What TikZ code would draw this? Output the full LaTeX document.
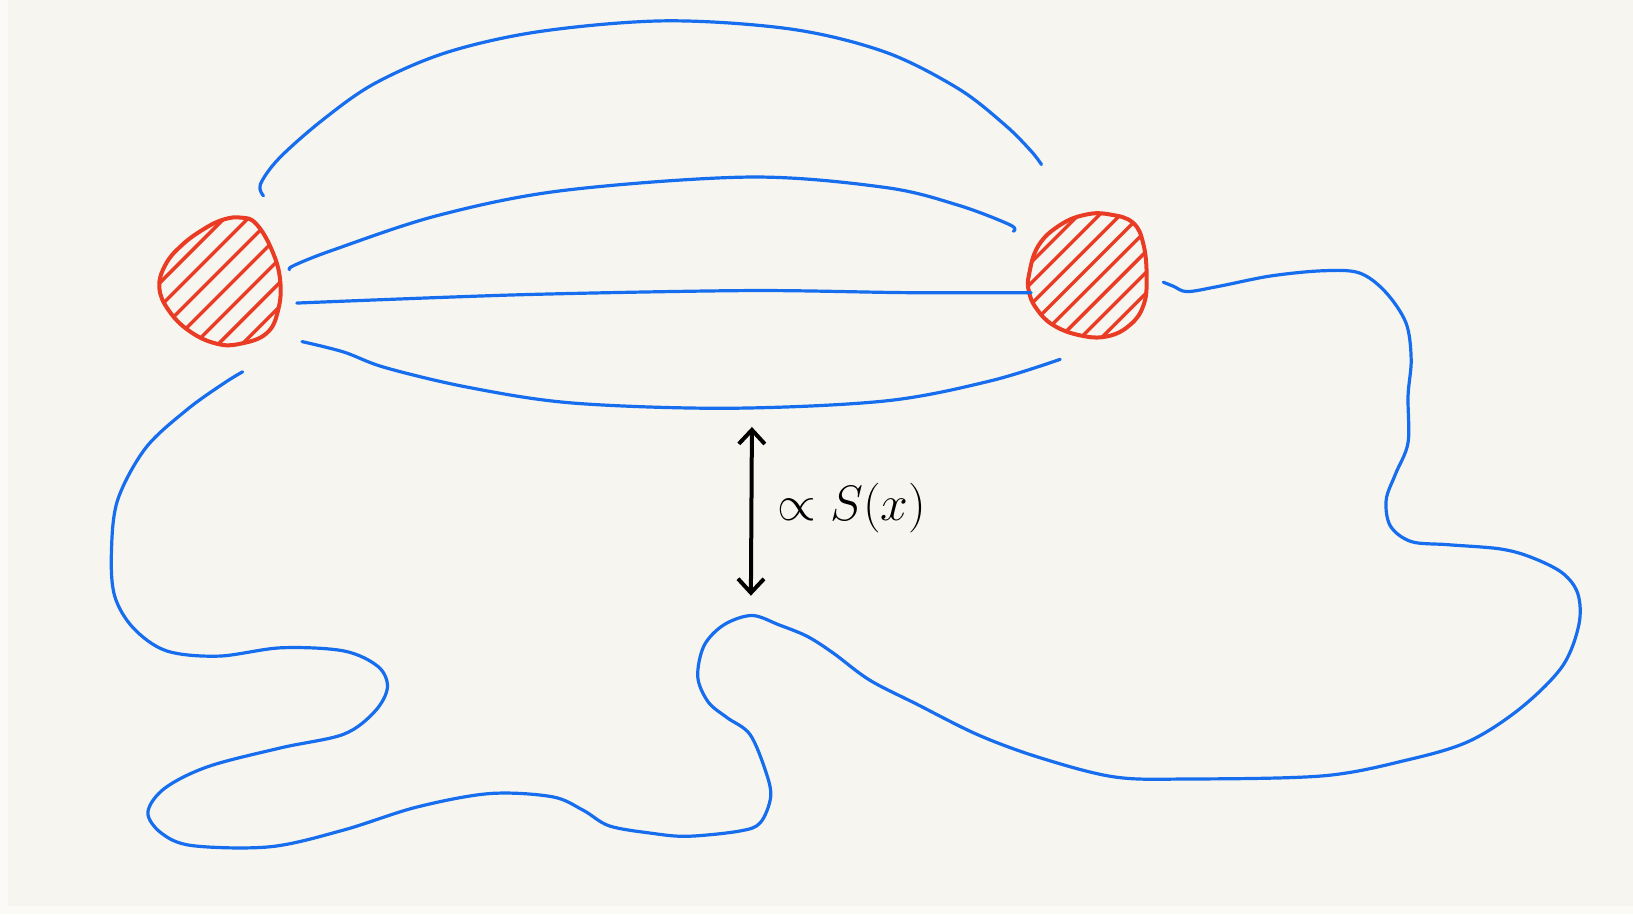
\documentclass[tikz,border=0pt]{standalone}
\usetikzlibrary{arrows.meta}
\definecolor{paper}{RGB}{247,245,240}
\definecolor{edge}{RGB}{251,250,247}
\definecolor{pen}{RGB}{22,110,238}
\definecolor{ink}{RGB}{234,60,36}
\begin{document}
\begin{tikzpicture}[x=0.52075pt,y=-0.52075pt,
  blueline/.style={draw=pen,line width=1.6pt,line cap=round,line join=round},
  blobline/.style={draw=ink,line width=2pt,line join=round},
  hatchline/.style={draw=ink,line width=1.7pt,line cap=round},
  arrowline/.style={draw=black,line width=2pt,line cap=round,
     {Straight Barb[length=7pt,width=13pt,line width=2pt]}-{Straight Barb[length=7pt,width=13pt,line width=2pt]}},
  labeltext/.style={font=\fontsize{27}{30}\selectfont,inner sep=0pt}]
\fill[paper] (0,0) rectangle (1568,878);
\fill[edge] (0,0) rectangle (7.5,878);
\fill[edge] (0,870) rectangle (1568,878);
\useasboundingbox (0,0) rectangle (1568,878);

% left blob
\def\leftblob{plot[smooth cycle,tension=0.7] coordinates {(153,276) (159,254) (174,236) (194,221) (214,211) (232,209) (246,215) (261,240) (269,269) (267,298) (256,320) (231,330) (208,330) (182,318) (162,298)}}
\begin{scope}
  \clip \leftblob;
  \foreach \c in {425,448,...,570} {
    \draw[hatchline] (\c-330,330) -- (\c-180,180);
  }
\end{scope}
\draw[blobline] \leftblob;

% right blob
\def\rightblob{plot[smooth cycle,tension=0.7] coordinates {(988,264) (997,236) (1018,216) (1043,206) (1066,206) (1088,214) (1098,235) (1101,267) (1098,293) (1085,312) (1063,323) (1037,322) (1011,312) (995,296) (988,280)}}
\begin{scope}
  \clip \rightblob;
  \foreach \c in {1242,1262,...,1395} {
    \draw[hatchline] (\c-340,340) -- (\c-190,190);
  }
\end{scope}
\draw[blobline] \rightblob;

% connectors between blobs
\draw[blueline] plot[smooth,tension=0.55] coordinates {(253,188) (250,177) (268,152) (310,115) (360,80) (430,50) (520,30) (640,20) (760,28) (850,50) (920,85) (965,120) (990,145) (1000,158)};
\draw[blueline] plot[smooth,tension=0.55] coordinates {(278,259) (282,255) (320,240) (420,207) (540,183) (720,170) (850,180) (920,197) (970,216) (973,222)};
\draw[blueline] plot[smooth,tension=0.5] coordinates {(285,291) (500,283) (720,279) (870,281) (990,281)};
\draw[blueline] plot[smooth,tension=0.55] coordinates {(290,328) (330,338) (370,353) (450,372) (550,387) (700,392) (850,385) (950,366) (1018,345)};

% long wiggly path
\draw[blueline] plot[smooth,tension=0.55] coordinates {(233,357) (215,368) (180,393) (140,430) (113,480) (107,530) (110,572) (128,603) (160,625) (210,630) (270,622) (330,625) (363,640) (372,660) (360,683) (330,705) (270,718) (200,736) (158,757) (142,780) (155,800) (185,812) (260,813) (330,797) (400,775) (470,762) (530,765) (560,778) (585,793) (625,800) (660,803) (710,798) (730,790) (740,765) (735,740) (720,705) (698,689) (680,674) (670,650) (676,620) (695,600) (722,591) (748,600) (775,611) (800,627) (835,653) (880,676) (940,706) (1000,728) (1070,746) (1140,748) (1270,745) (1350,730) (1410,712) (1460,680) (1500,640) (1516,600) (1515,570) (1500,550) (1470,535) (1440,527) (1390,523) (1355,520) (1335,505) (1331,480) (1340,455) (1352,425) (1352,380) (1355,345) (1350,310) (1330,280) (1305,262) (1270,260) (1220,265) (1170,275) (1140,280) (1127,275) (1117,271)};

% double arrow and label
\coordinate (atop) at (722,410);
\coordinate (abot) at (721,572);
\draw[arrowline] (abot) -- (atop);
\node[labeltext] (lab) at (818,488) {$\propto S(x)$};
\end{tikzpicture}
\end{document}
